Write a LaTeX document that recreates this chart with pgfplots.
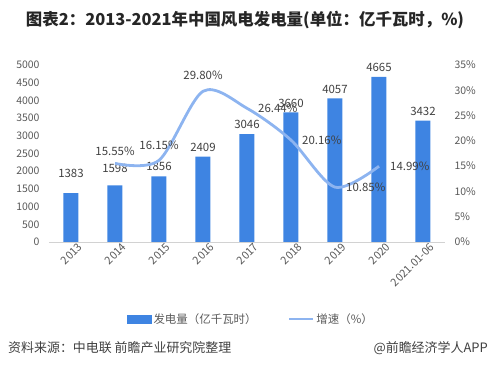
\documentclass[border=0pt]{standalone}
\usepackage{pgfplots}
\pgfplotsset{compat=1.18}
\usepackage{pgfplotstable}
\usepackage{fontspec}
\setmainfont{Noto Sans CJK SC}
\definecolor{barblue}{RGB}{62,132,226}
\definecolor{lineblue}{RGB}{141,180,240}
\definecolor{tickgray}{RGB}{89,89,89}
\definecolor{labgray}{RGB}{64,64,64}
\definecolor{axgray}{RGB}{210,210,210}
\definecolor{titlec}{RGB}{38,38,38}

\pgfplotstableread{
x val dy
0 1383 14
1 1598 12
2 1856 4
3 2409 4
4 3046 4
5 3660 4
6 4057 4
7 4665 4
8 3432 4
}\bars

\pgfplotstableread{
x g dx dy
1 15.55 0 7
2 16.15 0 10
3 29.80 0 10
4 26.44 10 0
5 20.16 10 0
6 10.85 10 0
7 14.99 10 0
}\growth

\begin{document}
\begin{tikzpicture}
\path[use as bounding box] (-49bp,-128bp) rectangle (440bp,242bp);

\begin{axis}[
  scale only axis, width=396bp, height=177bp,
  at={(0,0)}, anchor=south west,
  xmin=-0.5, xmax=8.5, ymin=0, ymax=5000,
  ybar, bar width=15bp,
  axis x line*=bottom, axis y line*=left,
  x axis line style={draw=axgray, line width=0.8pt, -},
  y axis line style={draw=none},
  major tick length=0pt,
  xtick={0,...,8},
  xticklabels={2013,2014,2015,2016,2017,2018,2019,2020,2021.01-06},
  xticklabel style={rotate=45, anchor=north east, inner sep=0.5bp, xshift=5bp, yshift=-4bp,
    font=\fontsize{11}{13}\selectfont, text=tickgray},
  ytick={0,500,...,5000},
  yticklabel style={anchor=east, xshift=-6bp, font=\fontsize{10.5}{12}\selectfont, text=tickgray,
    /pgf/number format/1000 sep={}},
  /pgf/number format/assume math mode=true,
]
\addplot[fill=barblue, draw=none,
  nodes near coords={\pgfmathprintnumber[fixed,precision=0,1000 sep={},assume math mode=true]{\pgfplotspointmeta}},
  point meta=y,
  visualization depends on={\thisrow{dy} \as \bdy},
  every node near coord/.append style={font=\fontsize{11.5}{13}\selectfont, text=labgray,
    anchor=south, inner sep=1bp, yshift=\bdy},
] table[x=x, y=val] {\bars};
\end{axis}

\begin{axis}[
  scale only axis, width=396bp, height=177bp,
  at={(0,0)}, anchor=south west,
  xmin=-0.5, xmax=8.5, ymin=0, ymax=35,
  axis x line=none, axis y line*=right,
  y axis line style={draw=none},
  major tick length=0pt,
  ytick={0,5,...,35},
  yticklabel={\pgfmathprintnumber{\tick}\%},
  yticklabel style={anchor=west, xshift=6bp, font=\fontsize{10.5}{12}\selectfont, text=tickgray},
  /pgf/number format/assume math mode=true,
  legend style={draw=none, fill=none, at={(0.51,-0.435)}, anchor=center,
    font=\fontsize{11.5}{13}\selectfont, text=tickgray,
    /tikz/every even column/.append style={column sep=29bp}},
  legend columns=2,
]
\addlegendimage{legend image code/.code={\fill[barblue] (0bp,-4bp) rectangle (24bp,4bp);}}
\addlegendentry{发电量（亿千瓦时）}
\addplot[lineblue, line width=2.8bp, smooth, no markers,
  legend image code/.code={\draw[lineblue, line width=2.8bp] (0bp,0bp) -- (24bp,0bp);},
] table[x=x, y=g] {\growth};
\addlegendentry{增速（\%）}
\addplot[draw=none, no markers, forget plot, restrict x to domain=1:3,
  nodes near coords={\pgfmathprintnumber[fixed,fixed zerofill,precision=2,assume math mode=true]{\pgfplotspointmeta}\%},
  point meta=y,
  visualization depends on={\thisrow{dy} \as \gdy},
  every node near coord/.append style={font=\fontsize{11.5}{13}\selectfont, text=labgray,
    anchor=south, inner sep=1bp, yshift=\gdy},
] table[x=x, y=g] {\growth};
\addplot[draw=none, no markers, forget plot, restrict x to domain=4:7,
  nodes near coords={\pgfmathprintnumber[fixed,fixed zerofill,precision=2,assume math mode=true]{\pgfplotspointmeta}\%},
  point meta=y,
  visualization depends on={\thisrow{dx} \as \gdx},
  every node near coord/.append style={font=\fontsize{11.5}{13}\selectfont, text=labgray,
    anchor=west, inner sep=1bp, xshift=\gdx},
] table[x=x, y=g] {\growth};
\end{axis}

\node[font=\bfseries\fontsize{16.5}{19}\selectfont, text=titlec] at (196bp,222bp) {图表2：2013-2021年中国风电发电量(单位：亿千瓦时，\%)};
\node[font=\fontsize{13}{15}\selectfont, text=labgray, anchor=west, inner sep=0pt] at (-41bp,-106bp) {资料来源：中电联 前瞻产业研究院整理};
\node[font=\fontsize{13}{15}\selectfont, text=labgray, anchor=east, inner sep=0pt] at (439bp,-106bp) {@前瞻经济学人APP};
\end{tikzpicture}
\end{document}
